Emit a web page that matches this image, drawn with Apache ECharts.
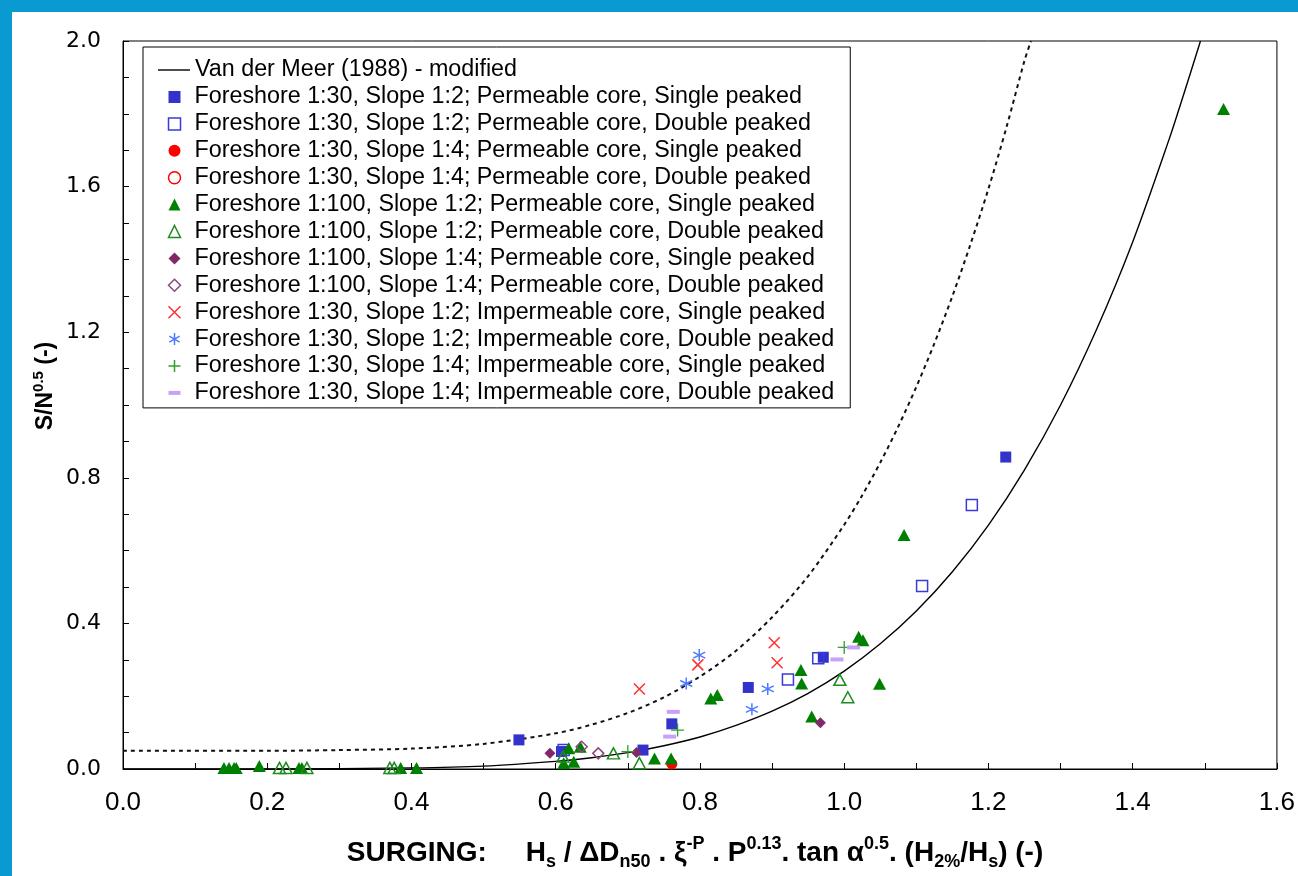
<!DOCTYPE html>
<html>
<head>
<meta charset="utf-8">
<script src="https://cdn.jsdelivr.net/npm/echarts@6/dist/echarts.min.js"></script>
<style>
html,body{margin:0;padding:0;background:#fff;}
#c{width:1298px;height:876px;}
</style>
</head>
<body>
<div id="c"></div>
<script>
// ---- tick labels ----
const xTickLabels = ['0.0','0.2','0.4','0.6','0.8','1.0','1.2','1.4','1.6'];
const yTickLabels = ['0.0','0.4','0.8','1.2','1.6','2.0'];

// ---- curves ----
const vdmX = [0, 0.2, 0.4, 0.5, 0.6, 0.65, 0.7, 0.75, 0.8, 0.85, 0.9, 0.95, 1.0, 1.05, 1.1, 1.15, 1.2, 1.25, 1.3, 1.35, 1.4, 1.45, 1.47, 1.494];
const vdmY = [0, 0.0001, 0.003, 0.008, 0.021, 0.031, 0.045, 0.064, 0.088, 0.120, 0.159, 0.208, 0.269, 0.344, 0.434, 0.542, 0.670, 0.822, 1.0, 1.208, 1.448, 1.727, 1.849, 2.0];
const dotX = [0, 0.2, 0.3, 0.4, 0.5, 0.6, 0.65, 0.7, 0.75, 0.8, 0.85, 0.9, 0.95, 1.0, 1.025, 1.05, 1.075, 1.1, 1.125, 1.15, 1.175, 1.2, 1.225, 1.25, 1.259];
const dotY = [0.05, 0.05, 0.052, 0.056, 0.069, 0.098, 0.122, 0.154, 0.197, 0.254, 0.325, 0.417, 0.530, 0.671, 0.752, 0.842, 0.941, 1.05, 1.169, 1.299, 1.441, 1.594, 1.763, 1.946, 2.0];

// ---- series names ----
const lineName = 'Van der Meer (1988) - modified';
const names = [
  'Foreshore 1:30, Slope 1:2; Permeable core, Single peaked',
  'Foreshore 1:30, Slope 1:2; Permeable core, Double peaked',
  'Foreshore 1:30, Slope 1:4; Permeable core, Single peaked',
  'Foreshore 1:30, Slope 1:4; Permeable core, Double peaked',
  'Foreshore 1:100, Slope 1:2; Permeable core, Single peaked',
  'Foreshore 1:100, Slope 1:2; Permeable core, Double peaked',
  'Foreshore 1:100, Slope 1:4; Permeable core, Single peaked',
  'Foreshore 1:100, Slope 1:4; Permeable core, Double peaked',
  'Foreshore 1:30, Slope 1:2; Impermeable core, Single peaked',
  'Foreshore 1:30, Slope 1:2; Impermeable core, Double peaked',
  'Foreshore 1:30, Slope 1:4; Impermeable core, Single peaked',
  'Foreshore 1:30, Slope 1:4; Impermeable core, Double peaked'
];

// ---- scatter values ----
const fsqX = [0.549, 0.608, 0.721, 0.761, 0.867, 0.971, 1.224];
const fsqY = [0.080, 0.048, 0.052, 0.124, 0.224, 0.307, 0.857];
const hsqX = [0.611, 0.922, 0.964, 1.108, 1.177];
const hsqY = [0.052, 0.246, 0.304, 0.503, 0.725];
const fciX = [0.761];
const fciY = [0.014];
const hciX = [];
const hciY = [];
const ftrX = [0.140, 0.147, 0.154, 0.157, 0.189, 0.244, 0.248, 0.385, 0.407, 0.611, 0.618, 0.625, 0.634, 0.737, 0.760, 0.815, 0.824, 0.940, 0.941, 0.955, 1.020, 1.026, 1.049, 1.083, 1.526];
const ftrY = [0.003, 0.003, 0.003, 0.003, 0.008, 0.003, 0.003, 0.003, 0.003, 0.016, 0.057, 0.020, 0.061, 0.029, 0.029, 0.194, 0.203, 0.272, 0.235, 0.144, 0.363, 0.354, 0.234, 0.643, 1.813];
const htrX = [0.217, 0.226, 0.255, 0.370, 0.376, 0.610, 0.680, 0.716, 0.994, 1.005];
const htrY = [0.003, 0.003, 0.003, 0.003, 0.003, 0.034, 0.043, 0.016, 0.245, 0.197];
const fdmX = [0.592, 0.712, 0.967];
const fdmY = [0.043, 0.045, 0.127];
const hdmX = [0.636, 0.659];
const hdmY = [0.061, 0.043];
const crsX = [0.716, 0.797, 0.903, 0.907];
const crsY = [0.220, 0.286, 0.347, 0.292];
const astX = [0.781, 0.799, 0.872, 0.894];
const astY = [0.235, 0.313, 0.164, 0.220];
const plsX = [0.700, 0.769, 1.000];
const plsY = [0.048, 0.107, 0.334];
const dshX = [0.758, 0.763, 0.990, 1.013];
const dshY = [0.089, 0.157, 0.301, 0.334];

function zip(xs, ys) { return xs.map((x, i) => [x, ys[i]]); }

const FONT = "'Liberation Sans', Arial, sans-serif";

const markerDefs = [
  {x: fsqX, y: fsqY, symbol: 'rect', size: 11, style: {color: '#3333CC', borderWidth: 0}},
  {x: hsqX, y: hsqY, symbol: 'rect', size: 11, style: {color: 'transparent', borderColor: '#3A3ADA', borderWidth: 1.5}},
  {x: fciX, y: fciY, symbol: 'circle', size: 11, style: {color: '#FF0000', borderWidth: 0}},
  {x: hciX, y: hciY, symbol: 'circle', size: 10, style: {color: 'transparent', borderColor: '#FF0000', borderWidth: 1.5}},
  {x: ftrX, y: ftrY, symbol: 'triangle', size: [13, 12], style: {color: '#008000', borderWidth: 0}},
  {x: htrX, y: htrY, symbol: 'triangle', size: [12, 11], style: {color: 'transparent', borderColor: '#1E8C1E', borderWidth: 1.5}},
  {x: fdmX, y: fdmY, symbol: 'diamond', size: 11, style: {color: '#802868', borderWidth: 0}},
  {x: hdmX, y: hdmY, symbol: 'diamond', size: 11, style: {color: 'transparent', borderColor: '#8A4A7E', borderWidth: 1.5}},
  {x: crsX, y: crsY, symbol: 'path://M0,0L10,10M10,0L0,10', size: 11, style: {color: 'none', borderColor: '#FF3030', borderWidth: 1.5}},
  {x: astX, y: astY, symbol: 'path://M5,0L5,10M0.7,2.5L9.3,7.5M0.7,7.5L9.3,2.5', size: 12, style: {color: 'none', borderColor: '#4F7BFF', borderWidth: 1.5}},
  {x: plsX, y: plsY, symbol: 'path://M5,0L5,10M0,5L10,5', size: 13, style: {color: 'none', borderColor: '#2FA02F', borderWidth: 1.3}},
  {x: dshX, y: dshY, symbol: 'rect', size: [13, 4], style: {color: '#C8A0F8', borderWidth: 0}}
];

const series = [
  {
    type: 'line', name: '__dotted', data: zip(dotX, dotY), symbol: 'none', smooth: 0.3,
    itemStyle: {color: '#000'},
    lineStyle: {color: '#111', width: 2, type: [4, 4]}, z: 1, silent: true
  },
  {
    type: 'line', name: lineName, data: zip(vdmX, vdmY), symbol: 'none', smooth: 0.3,
    itemStyle: {color: '#000'},
    lineStyle: {color: '#000', width: 1.4, type: 'solid'}, z: 1, silent: true
  }
];
markerDefs.forEach((m, i) => {
  series.push({
    type: 'scatter', name: names[i], data: zip(m.x, m.y), symbol: m.symbol, symbolSize: m.size,
    itemStyle: Object.assign({opacity: 1}, m.style), z: 3, silent: true
  });
});

const legendBData = names.map((n, i) => i === 11 ? {name: n, icon: 'path://M0,0H12V4H0Z'} : {name: n});

const chart = echarts.init(document.getElementById('c'), null, {renderer: 'canvas'});
chart.setOption({
  animation: false,
  backgroundColor: '#fff',
  grid: {left: 123, top: 41, width: 1162.4, height: 728, show: true, borderColor: '#000', borderWidth: 1, backgroundColor: 'transparent'},
  xAxis: {
    type: 'value', min: 0, max: 1.6, interval: 0.2,
    axisLine: {show: true, onZero: false, lineStyle: {color: '#000', width: 1}},
    axisTick: {show: true, inside: true, length: 6, lineStyle: {color: '#000'}},
    minorTick: {show: true, splitNumber: 2, length: 6, lineStyle: {color: '#000'}},
    splitLine: {show: false},
    axisLabel: {
      margin: 21, color: '#000', fontSize: 26, fontFamily: FONT,
      formatter: v => xTickLabels[Math.round(v / 0.2)]
    }
  },
  yAxis: {
    type: 'value', min: 0, max: 2.0, interval: 0.4,
    axisLine: {show: true, onZero: false, lineStyle: {color: '#000', width: 1}},
    axisTick: {show: true, inside: true, length: 6, lineStyle: {color: '#000'}},
    minorTick: {show: true, splitNumber: 4, length: 6, lineStyle: {color: '#000'}},
    splitLine: {show: false},
    axisLabel: {
      margin: 22, color: '#000', fontSize: 22, fontFamily: "'DejaVu Sans', sans-serif",
      formatter: v => yTickLabels[Math.round(v / 0.4)]
    }
  },
  legend: [
    {
      data: [{name: lineName, icon: 'path://M0,0H32V1.4H0Z'}], orient: 'vertical', left: 158, top: 58.5, padding: 0,
      itemWidth: 32, itemHeight: 12, selectedMode: false, z: 8,
      itemStyle: {color: '#000', borderWidth: 0},
      textStyle: {fontSize: 23.3, fontFamily: FONT, color: '#000', padding: [0, 0, 0, 0]}
    },
    {
      data: legendBData, orient: 'vertical', left: 143, top: 47, padding: [38.5, 16, 3.5, 23],
      itemWidth: 12, itemHeight: 12, itemGap: 3.9, selectedMode: false, z: 5,
      backgroundColor: '#fff', borderColor: '#000', borderWidth: 1,
      itemStyle: {borderWidth: 1.5},
      textStyle: {fontSize: 23.3, fontFamily: FONT, color: '#000', padding: [0, 0, 0, 9]}
    }
  ],
  graphic: [
    {type: 'rect', shape: {x: 0, y: 0, width: 1298, height: 12}, style: {fill: '#0A9AD2'}, z: 100, silent: true},
    {type: 'rect', shape: {x: 0, y: 0, width: 12, height: 876}, style: {fill: '#0A9AD2'}, z: 100, silent: true},
    {
      type: 'text', x: 46, y: 386, rotation: Math.PI / 2, silent: true,
      style: {
        text: '{b|S/N}{sp|0.5}{b| (-)}', align: 'center', verticalAlign: 'middle',
        rich: {
          b: {fontSize: 23, fontWeight: 'bold', fontFamily: FONT, fill: '#000', lineHeight: 30, verticalAlign: 'middle'},
          sp: {fontSize: 15, fontWeight: 'bold', fontFamily: FONT, fill: '#000', lineHeight: 15, verticalAlign: 'top'}
        }
      }
    },
    {
      type: 'text', x: 695, y: 853, silent: true,
      style: {
        text: '{b|SURGING:     H}{sb|s}{b| / \u0394D}{sb|n50}{b| . \u03BE}{sp|-P}{b| . P}{sp|0.13}{b|. tan \u03B1}{sp|0.5}{b|. (H}{sb|2%}{b|/H}{sb|s}{b|) (-)}',
        align: 'center', verticalAlign: 'middle',
        rich: {
          b: {fontSize: 28, fontWeight: 'bold', fontFamily: FONT, fill: '#000', lineHeight: 36, verticalAlign: 'middle'},
          sp: {fontSize: 18, fontWeight: 'bold', fontFamily: FONT, fill: '#000', lineHeight: 18, verticalAlign: 'top'},
          sb: {fontSize: 18, fontWeight: 'bold', fontFamily: FONT, fill: '#000', lineHeight: 18, verticalAlign: 'bottom'}
        }
      }
    }
  ],
  series: series
});
</script>
</body>
</html>
